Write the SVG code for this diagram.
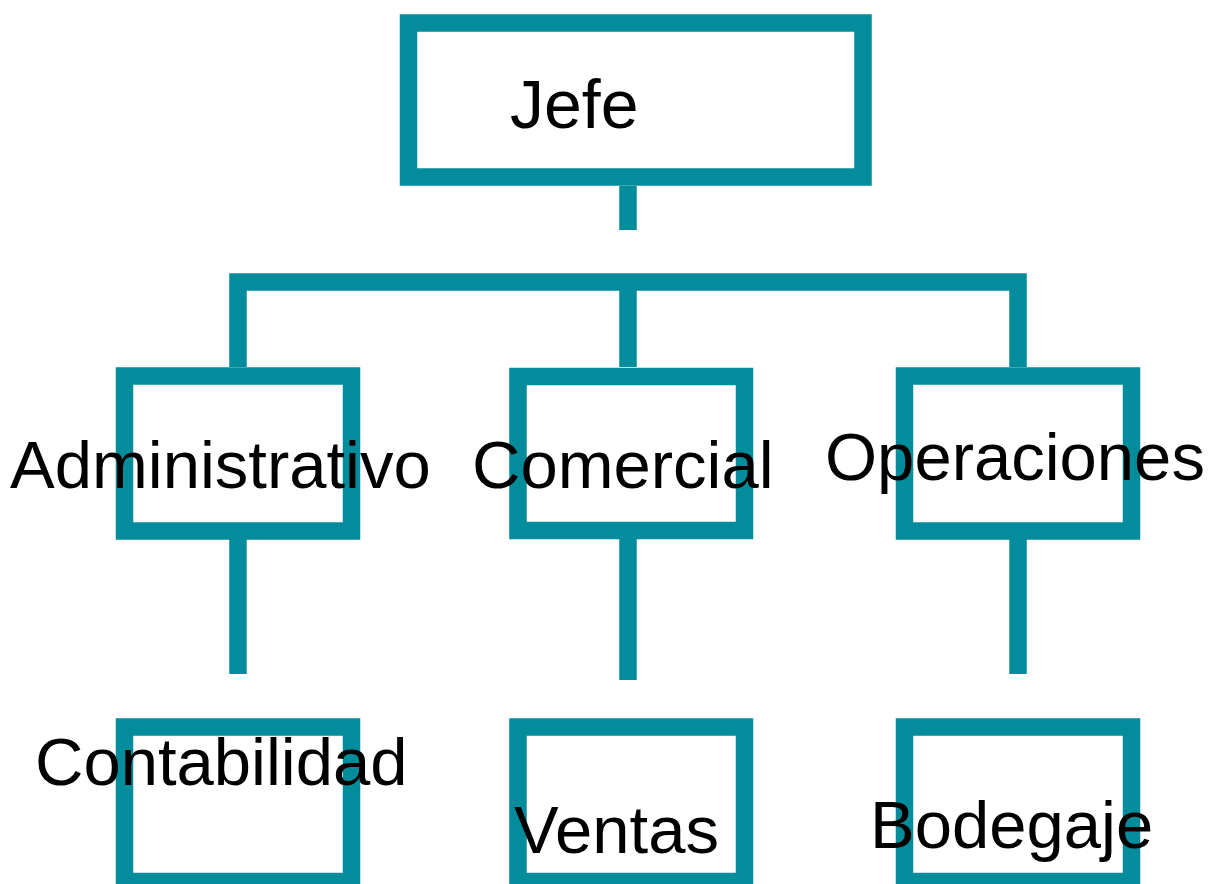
<svg xmlns="http://www.w3.org/2000/svg" width="1208" height="884" viewBox="0 0 1208 884">
<style>
.box{fill:#ffffff;stroke:#038c9c;stroke-width:17.5}
.con{fill:none;stroke:#038c9c;stroke-width:17.5;stroke-linecap:butt;stroke-linejoin:miter}
.lbl{font-family:"Liberation Sans",Arial,sans-serif;font-size:67px;fill:#000000}
</style>
<rect width="1208" height="884" fill="#ffffff"/>
<g id="connectors">
<path class="con" d="M628,186 V230"/>
<path class="con" d="M238,367 V282 H1018 V367"/>
<path class="con" d="M628,282 V367"/>
<path class="con" d="M238,539 V674"/>
<path class="con" d="M628,539 V680"/>
<path class="con" d="M1018,539 V674"/>
</g>
<g id="jefe">
<rect class="box" x="408.5" y="23" width="454.5" height="154"/>
<text class="lbl" x="510" y="128" style="font-size:68px">Jefe</text>
</g>
<g id="administrativo">
<rect class="box" x="124.5" y="376" width="227" height="155"/>
<text class="lbl" x="10" y="488">Administrativo</text>
</g>
<g id="comercial">
<rect class="box" x="518" y="376.5" width="226.5" height="154"/>
<text class="lbl" x="472" y="488">Comercial</text>
</g>
<g id="operaciones">
<rect class="box" x="904.5" y="376" width="227" height="155"/>
<text class="lbl" x="825" y="480">Operaciones</text>
</g>
<g id="contabilidad">
<rect class="box" x="124.5" y="727" width="227" height="154.5"/>
<text class="lbl" x="35" y="785">Contabilidad</text>
</g>
<g id="ventas">
<rect class="box" x="518" y="727" width="226.5" height="154.5"/>
<text class="lbl" x="514" y="853">Ventas</text>
</g>
<g id="bodegaje">
<rect class="box" x="904.5" y="727" width="227" height="154.5"/>
<text class="lbl" x="870" y="848">Bodegaje</text>
</g>
</svg>
